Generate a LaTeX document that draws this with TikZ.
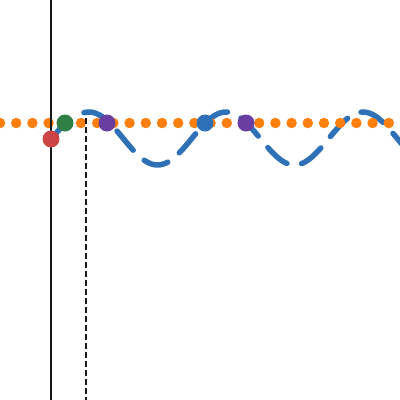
\documentclass[tikz,border=0pt]{standalone}
\usepackage{tikz}
\definecolor{waveBlue}{RGB}{46, 113, 183}
\definecolor{dotOrange}{RGB}{255, 127, 14}
\definecolor{ptGreen}{RGB}{46, 128, 68}
\definecolor{ptRed}{RGB}{204, 68, 68}
\definecolor{ptPurple}{RGB}{106, 62, 160}
\tikzset{
  pt/.style={circle, inner sep=0pt, minimum size=17pt},
  wave/.style={waveBlue, line width=5.5pt, line cap=round}
}

\begin{document}
\begin{tikzpicture}[x=1pt, y=-1pt]
        \useasboundingbox (0,0) rectangle (400,400);
        \clip (0,0) rectangle (400,400);
        \coordinate (axtop) at (51,0);
        \coordinate (axbot) at (51,400);
        \coordinate (mktop) at (86,118);
        \coordinate (mkbot) at (86,400);
        \coordinate (r) at (51,139);
        \coordinate (g) at (65,123);
        \draw[wave, dash pattern=on 25pt off 15pt, domain=84:405, samples=120]
          plot (\x, {138.5 - 26.5*cos(2.6277*(\x-89))});
        \draw[dotOrange, line width=10.5pt, line cap=round, dash pattern=on 0pt off 16.2pt]
          (0,123) -- (400,123);
        \draw[black!90, line width=2.8pt] (axtop) -- (axbot);
        \draw[black!90, line width=2pt, dash pattern=on 6pt off 3pt] (mktop) -- (mkbot);
        \draw[wave] (r) -- (g);
        \node[pt, fill=ptRed] (red) at (r) {};
        \node[pt, fill=ptGreen] (green) at (g) {};
        \node[pt, fill=ptPurple] (p1) at (107,123) {};
        \node[pt, fill=waveBlue] (b1) at (205,123) {};
        \node[pt, fill=ptPurple] (p2) at (246,123) {};
      \end{tikzpicture}
\end{document}
